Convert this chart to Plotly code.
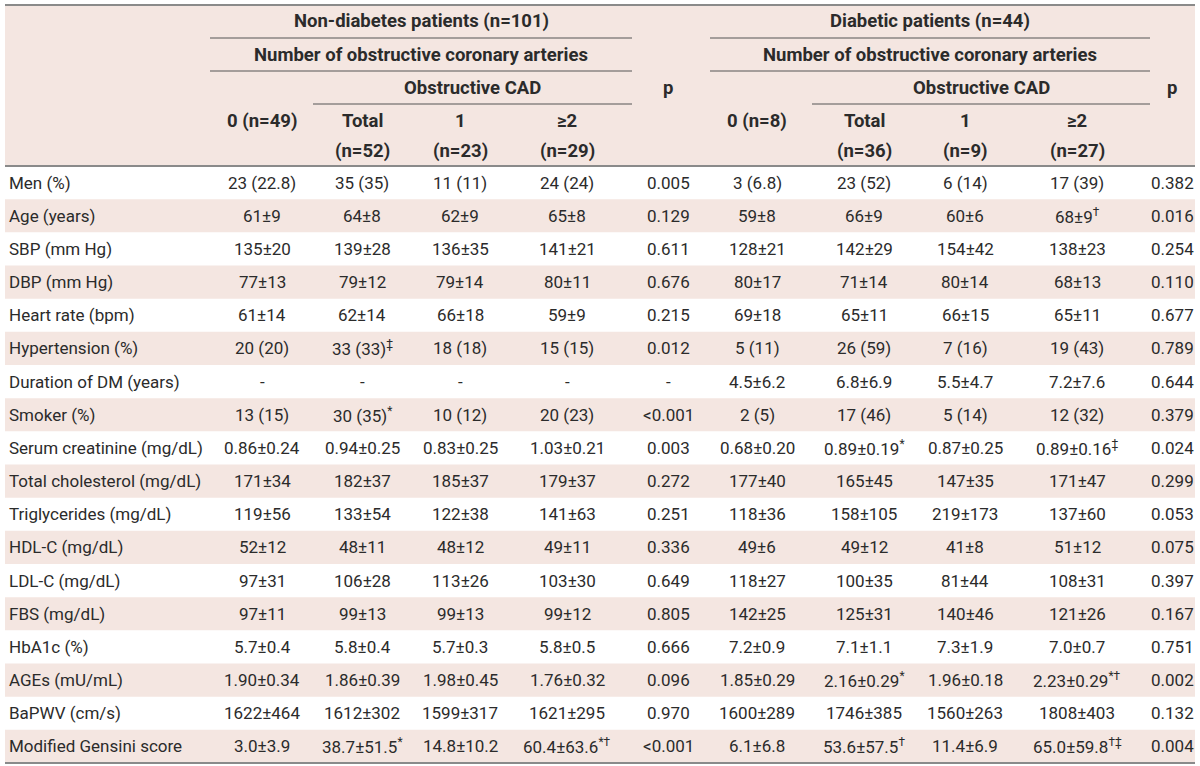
import plotly.graph_objects as go

# ---------------- data ----------------
row_labels = ["Men (%)", "Age (years)", "SBP (mm Hg)", "DBP (mm Hg)", "Heart rate (bpm)",
              "Hypertension (%)", "Duration of DM (years)", "Smoker (%)",
              "Serum creatinine (mg/dL)", "Total cholesterol (mg/dL)", "Triglycerides (mg/dL)",
              "HDL-C (mg/dL)", "LDL-C (mg/dL)", "FBS (mg/dL)", "HbA1c (%)", "AGEs (mU/mL)",
              "BaPWV (cm/s)", "Modified Gensini score"]

nd_zero = ["23 (22.8)", "61±9", "135±20", "77±13", "61±14", "20 (20)", "-", "13 (15)",
           "0.86±0.24", "171±34", "119±56", "52±12", "97±31", "97±11", "5.7±0.4",
           "1.90±0.34", "1622±464", "3.0±3.9"]
nd_total = ["35 (35)", "64±8", "139±28", "79±12", "62±14", "33 (33)<sup>‡</sup>", "-",
            "30 (35)<sup>*</sup>", "0.94±0.25", "182±37", "133±54", "48±11", "106±28", "99±13",
            "5.8±0.4", "1.86±0.39", "1612±302", "38.7±51.5<sup>*</sup>"]
nd_one = ["11 (11)", "62±9", "136±35", "79±14", "66±18", "18 (18)", "-", "10 (12)",
          "0.83±0.25", "185±37", "122±38", "48±12", "113±26", "99±13", "5.7±0.3",
          "1.98±0.45", "1599±317", "14.8±10.2"]
nd_two = ["24 (24)", "65±8", "141±21", "80±11", "59±9", "15 (15)", "-", "20 (23)",
          "1.03±0.21", "179±37", "141±63", "49±11", "103±30", "99±12", "5.8±0.5",
          "1.76±0.32", "1621±295", "60.4±63.6<sup>*†</sup>"]
nd_p = ["0.005", "0.129", "0.611", "0.676", "0.215", "0.012", "-", "<0.001", "0.003",
        "0.272", "0.251", "0.336", "0.649", "0.805", "0.666", "0.096", "0.970", "<0.001"]
dm_zero = ["3 (6.8)", "59±8", "128±21", "80±17", "69±18", "5 (11)", "4.5±6.2", "2 (5)",
           "0.68±0.20", "177±40", "118±36", "49±6", "118±27", "142±25", "7.2±0.9",
           "1.85±0.29", "1600±289", "6.1±6.8"]
dm_total = ["23 (52)", "66±9", "142±29", "71±14", "65±11", "26 (59)", "6.8±6.9", "17 (46)",
            "0.89±0.19<sup>*</sup>", "165±45", "158±105", "49±12", "100±35", "125±31",
            "7.1±1.1", "2.16±0.29<sup>*</sup>", "1746±385", "53.6±57.5<sup>†</sup>"]
dm_one = ["6 (14)", "60±6", "154±42", "80±14", "66±15", "7 (16)", "5.5±4.7", "5 (14)",
          "0.87±0.25", "147±35", "219±173", "41±8", "81±44", "140±46", "7.3±1.9",
          "1.96±0.18", "1560±263", "11.4±6.9"]
dm_two = ["17 (39)", "68±9<sup>†</sup>", "138±23", "68±13", "65±11", "19 (43)", "7.2±7.6",
          "12 (32)", "0.89±0.16<sup>‡</sup>", "171±47", "137±60", "51±12", "108±31",
          "121±26", "7.0±0.7", "2.23±0.29<sup>*†</sup>", "1808±403", "65.0±59.8<sup>†‡</sup>"]
dm_p = ["0.382", "0.016", "0.254", "0.110", "0.677", "0.789", "0.644", "0.379", "0.024",
        "0.299", "0.053", "0.075", "0.397", "0.167", "0.751", "0.002", "0.132", "0.004"]

group_titles = ["Non-diabetes patients (n=101)", "Diabetic patients (n=44)"]
sub_title = "Number of obstructive coronary arteries"
cad_title = "Obstructive CAD"
col_heads = ["0 (n=49)", "Total<br>(n=52)", "1<br>(n=23)", "≥2<br>(n=29)", "p",
             "0 (n=8)", "Total<br>(n=36)", "1<br>(n=9)", "≥2<br>(n=27)", "p"]

columns = [nd_zero, nd_total, nd_one, nd_two, nd_p, dm_zero, dm_total, dm_one, dm_two, dm_p]

# ---------------- layout constants ----------------
W, H = 1200, 766
LEFT, RIGHT = 5, 1195
TOP, HEAD_BOT, BOT = 5, 166, 763
col_x = [262, 362, 460, 567, 668, 757, 864, 965, 1077, 1172]
row_h = (BOT - HEAD_BOT) / len(row_labels)
PINK = "#f4e6e1"
TXT = "#2b2b2b"
FONT = "Roboto"
FS_BODY = 17
FS_HEAD = 18.5

shapes = []
ann = []

# header background
shapes.append(dict(type="rect", x0=LEFT, x1=RIGHT, y0=TOP, y1=HEAD_BOT, fillcolor=PINK,
                   line=dict(width=0), layer="below"))
# zebra rows
for i in range(len(row_labels)):
    y0 = HEAD_BOT + i * row_h
    if i % 2 == 1:
        shapes.append(dict(type="rect", x0=LEFT, x1=RIGHT, y0=y0, y1=y0 + row_h,
                           fillcolor=PINK, line=dict(width=0), layer="below"))

# border lines
for y in (TOP, HEAD_BOT, BOT):
    shapes.append(dict(type="line", x0=LEFT, x1=RIGHT, y0=y, y1=y,
                       line=dict(color="#8a8a8a", width=2)))

# header lines per group
groups = [(210, 632, 313), (710, 1150, 812)]
for (gx0, gx1, cx0) in groups:
    for y in (38, 71):
        shapes.append(dict(type="line", x0=gx0, x1=gx1, y0=y, y1=y,
                           line=dict(color="#555555", width=1)))
    shapes.append(dict(type="line", x0=cx0, x1=gx1, y0=104, y1=104,
                       line=dict(color="#555555", width=1)))


def add_text(x, y, text, bold=False, xanchor="center", size=FS_BODY):
    ann.append(dict(x=x, y=y, xref="x", yref="y", text=f"<b>{text}</b>" if bold else text,
                    showarrow=False, xanchor=xanchor, yanchor="middle",
                    font=dict(family=FONT, size=size, color=TXT)))


for gi, (gx0, gx1, cx0) in enumerate(groups):
    add_text((gx0 + gx1) / 2, 21, group_titles[gi], bold=True, size=FS_HEAD)
    add_text((gx0 + gx1) / 2, 55, sub_title, bold=True, size=FS_HEAD)
    add_text((cx0 + gx1) / 2, 88, cad_title, bold=True, size=FS_HEAD)

for ci, head in enumerate(col_heads):
    if head == "p":
        add_text(col_x[ci], 88, head, bold=True, size=FS_HEAD)
    elif "<br>" in head:
        a, b = head.split("<br>")
        add_text(col_x[ci], 121, a, bold=True, size=FS_HEAD)
        add_text(col_x[ci], 151, b, bold=True, size=FS_HEAD)
    else:
        add_text(col_x[ci], 121, head, bold=True, size=FS_HEAD)

for ri, lab in enumerate(row_labels):
    yc = HEAD_BOT + (ri + 0.5) * row_h
    add_text(7, yc, lab, xanchor="left")
    for ci, col in enumerate(columns):
        add_text(col_x[ci], yc, col[ri])

fig = go.Figure()
fig.update_layout(
    width=W, height=H, margin=dict(l=0, r=0, t=0, b=0),
    paper_bgcolor="white", plot_bgcolor="white",
    xaxis=dict(range=[0, W], visible=False, fixedrange=True),
    yaxis=dict(range=[H, 0], visible=False, fixedrange=True),
    shapes=shapes, annotations=ann, showlegend=False,
)
fig.write_html("out.html", config={"displayModeBar": False},
               post_script="document.body.style.margin='0';")
